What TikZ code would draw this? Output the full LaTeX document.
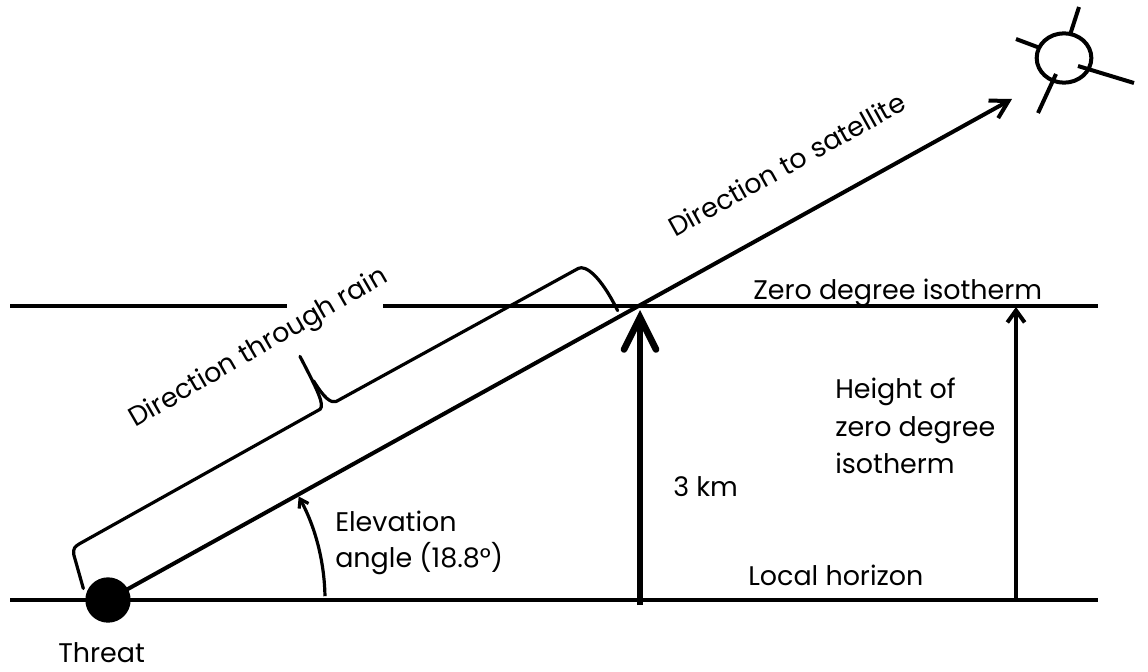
\documentclass[tikz,border=0pt]{standalone}
\usepackage{fontspec}
\setmainfont{Poppins}
\usetikzlibrary{arrows.meta,shapes.geometric}
\begin{document}
\begin{tikzpicture}[x=0.75pt,y=-0.75pt,
  line/.style={line width=3pt},
  lbl/.style={font=\fontsize{20.2}{28}\selectfont, inner sep=0pt},
  thinline/.style={line width=2.4pt}]
\useasboundingbox (0,0) rectangle (1148,671);
% horizons
\draw[line] (10,600) -- (1098,600);
\draw[line] (10,306) -- (287,306);
\draw[line] (383,306) -- (1098,306);
% threat
\node[circle, fill=black, minimum size=34pt, inner sep=0pt] (thr) at (108,600) {};
\node[lbl, anchor=base west] (threat) at (58,662) {Threat};
% satellite
\node[ellipse, draw, line width=3pt, minimum width=41pt, minimum height=37pt, inner sep=0pt] (sat) at (1064,58) {};
\draw[line] (1070,35) -- (1079,7);
\draw[line] (1040,48) -- (1016,39);
\draw[line] (1056,74) -- (1038,113);
\draw[line] (1078,66) -- (1134,83);
% direction line
\coordinate (tipS) at (1012,99);
\draw[line, -{Straight Barb[length=13pt,width=15pt]}] (thr.center) -- (tipS);
% brace
\begin{scope}[shift={(108,600)}, rotate=29, y=0.75pt]
\draw[thinline, line join=round, line cap=round]
  (-16,22) -- (-8,56) .. controls (-6,62) and (-3,63) .. (3,63)
  -- (278,64) .. controls (284,66) and (285,80) .. (286,120);
\draw[thinline, line join=round, line cap=round]
  (286,92) .. controls (287,72) and (290,64) .. (296,63)
  -- (572,62) .. controls (580,62) and (588,45) .. (586,6);
\end{scope}
% elevation arc
\draw[thinline, -{Straight Barb[length=6pt,width=8pt]}] ([shift={(-1:217)}]thr.center) arc[start angle=-1, end angle=-28.5, radius=217];
% vertical arrows
\coordinate (tkb) at (640,605);
\coordinate (tkt) at (640,310);
\draw[line width=5pt, -{Straight Barb[length=24pt,width=24pt,line cap=round]}] (tkb) -- (tkt);
\coordinate (tnb) at (1016,600);
\coordinate (tnt) at (1016,307);
\draw[line, -{Straight Barb[length=9pt,width=13pt]}] (tnb) -- (tnt);
% labels
\node[lbl, anchor=base west] (zdi) at (753,299) {Zero degree isotherm};
\node[lbl, anchor=base west] (h1) at (835,398) {Height of};
\node[lbl, anchor=base west] (h2) at (835,436) {zero degree};
\node[lbl, anchor=base west] (h3) at (835,473) {isotherm};
\node[lbl, anchor=base west] (km) at (673,496) {3 km};
\node[lbl, anchor=base west] (lh) at (748,585) {Local horizon};
\node[lbl, anchor=base west] (el1) at (335,531) {Elevation};
\node[lbl, anchor=base west] (el2) at (335,567) {angle (18.8°)};
\node[lbl, anchor=base west, rotate=29] (dts) at (675,238) {Direction to satellite};
\node[lbl, anchor=base west, rotate=30] (dtr) at (135,428) {Direction through rain};
\end{tikzpicture}
\end{document}
